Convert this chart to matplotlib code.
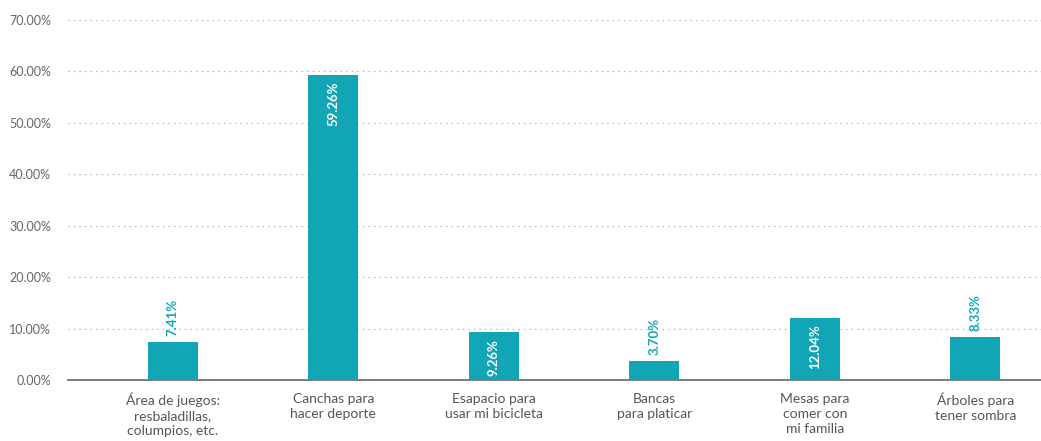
import numpy as np
import matplotlib.pyplot as plt
from matplotlib.ticker import FuncFormatter

plt.rcParams['font.family'] = ['Lato', 'DejaVu Sans']

categories = ['Área de juegos:\nresbaladillas,\ncolumpios, etc.',
              'Canchas para\nhacer deporte',
              'Esapacio para\nusar mi bicicleta',
              'Bancas\npara platicar',
              'Mesas para\ncomer con\nmi familia',
              'Árboles para\ntener sombra']
values = [7.41, 59.26, 9.26, 3.70, 12.04, 8.33]
labels = ['7.41%', '59.26%', '9.26%', '3.70%', '12.04%', '8.33%']
inside = [False, True, True, False, True, False]

teal = '#12a5b5'

fig = plt.figure(figsize=(10.41, 4.41), dpi=100)
ax = fig.add_axes([0.065, 0.138, 0.935, 0.817])

x = np.arange(len(values))
ax.bar(x, values, width=0.31, color=teal, zorder=3)

for xi, v, lab, ins in zip(x, values, labels, inside):
    if ins:
        ax.text(xi, v - 1.2, lab, rotation=90, ha='center', va='top',
                color='white', fontsize=9.5, fontweight='bold', zorder=4)
    else:
        ax.text(xi, v + 1.2, lab, rotation=90, ha='center', va='bottom',
                color=teal, fontsize=9.5, fontweight='bold', zorder=4)

ax.set_ylim(0, 70)
ax.set_xlim(-0.655, 5.41)
ax.set_yticks(np.arange(0, 71, 10))
ax.yaxis.set_major_formatter(FuncFormatter(lambda v, p: f'{v:.2f}%'))
ax.set_xticks(x)
ax.set_xticklabels(categories, fontsize=10, color='#555555', va='top', linespacing=1.3)
ax.tick_params(axis='y', length=0, labelsize=9, labelcolor='#666666', pad=12)
ax.tick_params(axis='x', length=0, pad=9)

ax.grid(axis='y', linestyle=(0, (1, 4)), color='#999999', linewidth=0.8, zorder=0)
for s in ['top', 'right', 'left']:
    ax.spines[s].set_visible(False)
ax.spines['bottom'].set_color('#666666')
ax.spines['bottom'].set_linewidth(1.2)

fig.savefig('out.png', dpi=100)
